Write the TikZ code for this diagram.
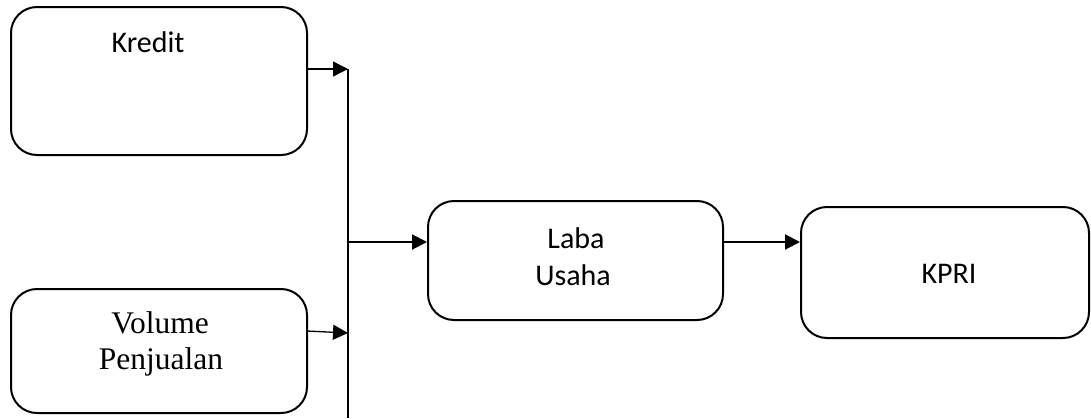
\documentclass[tikz,border=0pt]{standalone}
\usepackage{fontspec}
\setmainfont{Carlito}
\newfontfamily\tms{Liberation Serif}
\usetikzlibrary{arrows.meta}
\begin{document}
\begin{tikzpicture}[x=1pt,y=-1pt,
  box/.style={draw, line width=2pt, rounded corners=26pt, inner sep=0pt},
  lbl/.style={anchor=base, inner sep=0pt, font=\fontsize{30}{36}\selectfont},
  tlbl/.style={anchor=base, inner sep=0pt, font=\tms\fontsize{31.5}{38}\selectfont},
  arr/.style={line width=2pt, -{Triangle[length=15pt,width=15pt]}},
  thin arr/.style={line width=1.3pt, -{Triangle[length=15pt,width=15pt]}}]
\useasboundingbox (0,0) rectangle (1091,418);
% boxes
\node[box, minimum width=296pt, minimum height=148pt] (kredit) at (159,81) {};
\node[box, minimum width=296pt, minimum height=124pt] (volume) at (159,351) {};
\node[box, minimum width=295pt, minimum height=119pt] (laba) at (575.5,260.5) {};
\node[box, minimum width=288pt, minimum height=131pt] (kpri) at (945,272.5) {};
% texts
\node[lbl] (tkredit) at (148,52) {Kredit};
\node[tlbl] (tvol) at (160,333) {Volume};
\node[tlbl] (tpenj) at (161,369) {Penjualan};
\node[lbl] (tlaba) at (576,248) {Laba};
\node[lbl] (tusaha) at (573,285) {Usaha};
\node[lbl] (tkpri) at (949,283) {KPRI};
% junction line
\coordinate (j1) at (348,69);
\coordinate (j2) at (348,333);
\coordinate (j3) at (348,242);
\coordinate (jend) at (348,418);
\coordinate (v1) at (307,331);
\draw[line width=2pt] (j1) -- (jend);
\draw[thin arr] (kredit.east |- j1) -- (j1);
\draw[thin arr] (v1) -- (j2);
\draw[arr] (j3) -- (laba.west |- j3);
\draw[arr] (laba.east |- j3) -- (kpri.west |- j3);
\end{tikzpicture}
\end{document}
